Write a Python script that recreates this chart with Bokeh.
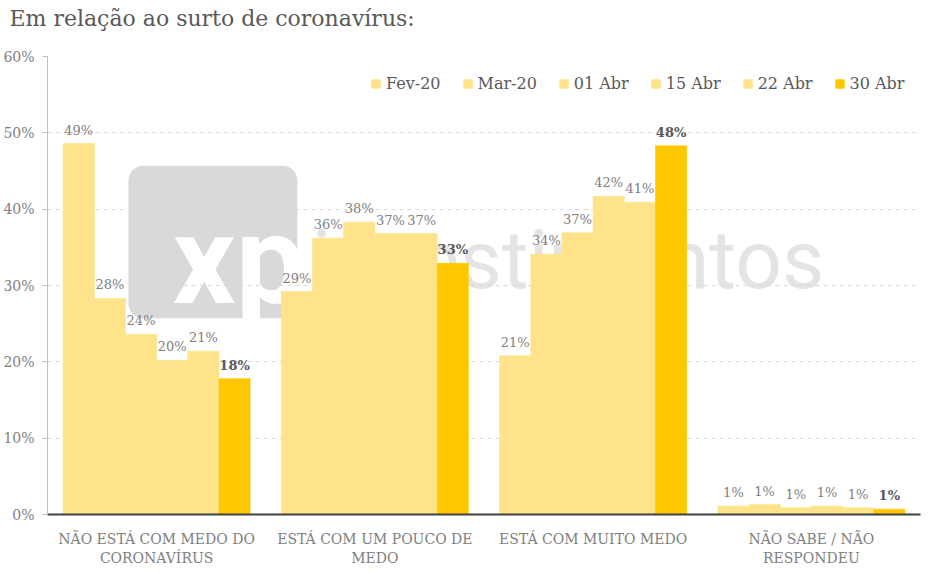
from bokeh.plotting import figure
from bokeh.models import (ColumnDataSource, FactorRange, Range1d, Legend, LegendItem, BoxAnnotation,
                          FixedTicker, Title)
from bokeh.transform import dodge
from bokeh.core.properties import value
from bokeh.embed import file_html
from bokeh.resources import INLINE

title = "Em relação ao surto de coronavírus:"
categories = ["NÃO ESTÁ COM MEDO DO\nCORONAVÍRUS", "ESTÁ COM UM POUCO DE\nMEDO",
              "ESTÁ COM MUITO MEDO", "NÃO SABE / NÃO\nRESPONDEU"]
series = ["Fev-20", "Mar-20", "01 Abr", "15 Abr", "22 Abr", "30 Abr"]
fev20 = [48.6, 29.2, 20.8, 1.1]
mar20 = [28.3, 36.2, 34.1, 1.3]
abr01 = [23.6, 38.3, 36.9, 0.9]
abr15 = [20.2, 36.8, 41.7, 1.1]
abr22 = [21.4, 36.8, 40.9, 0.9]
abr30 = [17.8, 32.9, 48.3, 0.7]
y_ticks = [0, 10, 20, 30, 40, 50, 60]
y_tick_labels = ["0%", "10%", "20%", "30%", "40%", "50%", "60%"]

all_values = [fev20, mar20, abr01, abr15, abr22, abr30]
colors = ["#FFE38A", "#FFE38A", "#FFE38A", "#FFE38A", "#FFE38A", "#FFC700"]

FONT = "DejaVu Serif"

data = {"cat": categories}
for i, vals in enumerate(all_values):
    data[f"s{i}"] = vals
    data[f"l{i}"] = [f"{round(v)}%" for v in vals]
src = ColumnDataSource(data)

p = figure(width=923, height=568, x_range=FactorRange(*categories), y_range=Range1d(0, 60),
           output_backend="svg", toolbar_location=None,
           min_border_left=44, min_border_right=3, min_border_top=56, min_border_bottom=0)
p.x_range.range_padding = 0
p.outline_line_color = None

p.title.text = title
p.title.text_font = FONT
p.title.text_font_size = "22px"
p.title.text_font_style = "normal"
p.title.text_color = "#595959"
p.title.offset = -38
p.title.standoff = 4
# empty spacer between title and plot area
p.add_layout(Title(text=" ", text_font_size="14px", standoff=6), "above")

# watermark
p.add_layout(BoxAnnotation(left=0.371, right=1.145, bottom=25.7, top=45.7, border_radius=15,
                           fill_color="#d9d9d9", fill_alpha=1, line_color=None, level="image"))
p.text(x=[0.573], y=[33.3], text=["xp"], text_font=value("Roboto"), text_font_style="bold",
       text_font_size="124px", text_color="white", text_baseline="middle", level="underlay")
p.text(x=[1.21], y=[33.3], text=["investimentos"], text_font=value("Roboto"),
       text_font_size="82px", text_color="#e4e4e4", text_baseline="middle", level="underlay")

items = []
n = len(series)
for i in range(n):
    off = (i - (n - 1) / 2) / 7
    r = p.vbar(x=dodge("cat", off, range=p.x_range), top=f"s{i}", width=1 / 7, source=src,
               fill_color=colors[i], line_color=colors[i], line_width=0.6)
    items.append(LegendItem(label=series[i], renderers=[r]))
    last = i == n - 1
    p.text(x=dodge("cat", off, range=p.x_range), y=f"s{i}", text=f"l{i}", source=src,
           text_font=value(FONT), text_font_size="13px",
           text_font_style="bold" if last else "normal",
           text_color="#595959" if last else "#808080",
           text_align="center", text_baseline="bottom", y_offset=-6)

legend = Legend(items=items, orientation="horizontal", location=(323, 421),
                border_line_color=None, background_fill_alpha=0,
                label_text_font=FONT, label_text_font_size="16px", label_text_color="#595959",
                glyph_width=11, glyph_height=11, label_standoff=5, spacing=21,
                margin=0, padding=6)
p.add_layout(legend)

p.xgrid.grid_line_color = None
p.ygrid.grid_line_color = "#d9d9d9"
p.ygrid.grid_line_dash = "4 4"
p.ygrid.ticker = FixedTicker(ticks=y_ticks)

p.yaxis.ticker = FixedTicker(ticks=y_ticks)
p.yaxis.major_label_overrides = {t: l for t, l in zip(y_ticks, y_tick_labels)}
p.yaxis.axis_line_color = "#bfbfbf"
p.yaxis.major_tick_line_color = "#bfbfbf"
p.yaxis.major_tick_out = 5
p.yaxis.major_tick_in = 0
p.yaxis.minor_tick_line_color = None
p.yaxis.major_label_text_font = FONT
p.yaxis.major_label_text_font_size = "14px"
p.yaxis.major_label_text_color = "#808080"
p.yaxis.major_label_standoff = 8

p.xaxis.axis_line_color = "#404040"
p.xaxis.axis_line_width = 2
p.xaxis.major_tick_line_color = None
p.xaxis.minor_tick_line_color = None
p.xaxis.major_label_text_font = FONT
p.xaxis.major_label_text_font_size = "14px"
p.xaxis.major_label_text_color = "#808080"
p.xaxis.major_label_standoff = 10

open("out.html", "w").write(file_html(p, INLINE))
